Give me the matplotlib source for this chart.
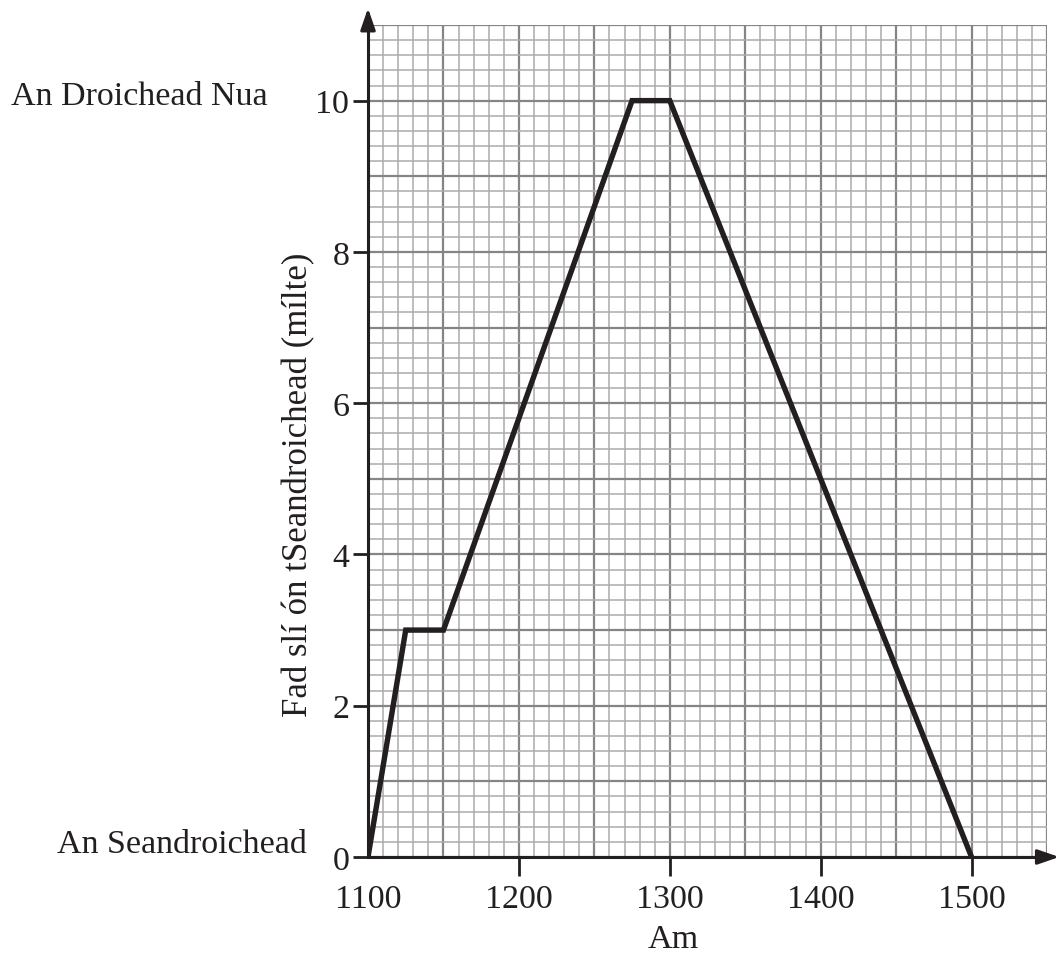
import numpy as np
import matplotlib.pyplot as plt

# am (hhmm) agus fad ón tSeandroichead
am = [1100, 1125, 1150, 1275, 1300, 1500]
fad = [0, 3, 3, 10, 10, 0]
x_ticks = [1100, 1200, 1300, 1400, 1500]
y_ticks = [0, 2, 4, 6, 8, 10]

plt.rcParams['font.family'] = ['Liberation Serif', 'DejaVu Serif']
ink = '#231f20'
W, H = 1063, 954

fig = plt.figure(figsize=(W/100, H/100), dpi=100)
ax = fig.add_axes([368/W, 1-858/H, (1047-368)/W, (858-26)/H])
ax.set_xlim(1100, 1550)
ax.set_ylim(0, 11)

# grid paper
for v in np.arange(1100, 1551, 10):
    major = (v - 1100) % 50 == 0
    ax.axvline(v, color='#858585' if major else '#ababab', lw=1.6 if major else 1.1, zorder=1)
for v in np.arange(0, 11.01, 0.2):
    major = abs(v - round(v)) < 1e-6
    ax.axhline(v, color='#858585' if major else '#ababab', lw=1.6 if major else 1.1, zorder=1)

ax.plot(am, fad, color=ink, lw=3.9, solid_joinstyle='miter', zorder=5)

for s in ['top', 'right']:
    ax.spines[s].set_visible(False)
for s in ['left', 'bottom']:
    ax.spines[s].set_color(ink)
    ax.spines[s].set_linewidth(2.2)
    ax.spines[s].set_zorder(6)

ax.set_xticks(x_ticks)
ax.set_yticks(y_ticks)
ax.tick_params(axis='x', length=14, width=2, color=ink, labelsize=24.5, labelcolor=ink, pad=5)
ax.tick_params(axis='y', length=10.5, width=2, color=ink, labelsize=24.5, labelcolor=ink, pad=3)
ax.xaxis.get_major_ticks()[0].tick1line.set_visible(False)

# saigheada
ax.annotate('', xy=(0, 1.0235), xytext=(0, 0.99), xycoords='axes fraction',
            arrowprops=dict(arrowstyle='-|>,head_length=1.3,head_width=0.45', color=ink, lw=2.2), annotation_clip=False)
ax.annotate('', xy=(1.022, 0), xytext=(0.99, 0), xycoords='axes fraction',
            arrowprops=dict(arrowstyle='-|>,head_length=1.3,head_width=0.45', color=ink, lw=2.2), annotation_clip=False)

fig.text(299/W, 1-485/H, 'Fad slí ón tSeandroichead (mílte)', fontsize=25, color=ink,
         rotation=90, ha='center', va='center')
fig.text(673/W, 1-948/H, 'Am', fontsize=24.5, color=ink, ha='center', va='baseline')

fig.text(11/W, 1-105/H, 'An Droichead Nua', fontsize=24.5, color=ink, va='baseline')
fig.text(57/W, 1-853/H, 'An Seandroichead', fontsize=24.5, color=ink, va='baseline')

plt.savefig('out.png', dpi=100)
